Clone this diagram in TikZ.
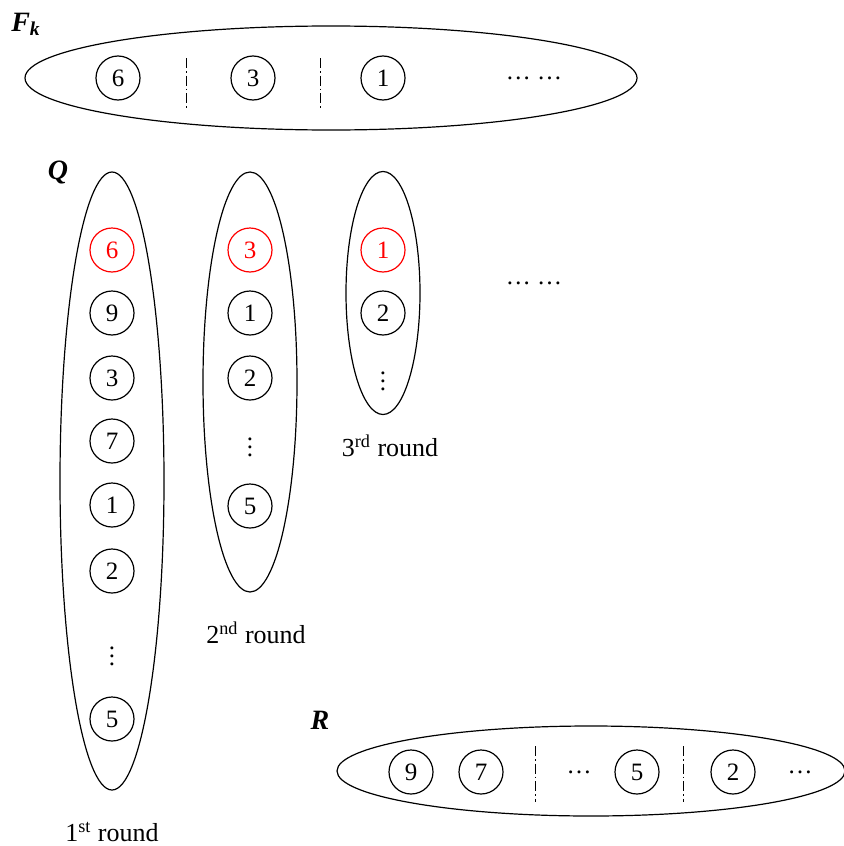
\documentclass[tikz,border=0pt]{standalone}
\usepackage{fontspec}
\setmainfont{Liberation Serif}
\usetikzlibrary{shapes.geometric}

\begin{document}
\begin{tikzpicture}[
  x=0.5pt, y=-0.5pt,
  font=\fontsize{12.5}{14}\selectfont,
  item/.style={draw, circle, line width=0.6pt, minimum size=22pt, inner sep=0pt},
  hot/.style={item, draw=red, text=red},
  set/.style={draw, ellipse, line width=0.6pt, inner sep=0pt},
  sep/.style={line width=0.5pt, dash pattern=on 5pt off 1.5pt on 0.8pt off 1.5pt},
  vd/.style={inner sep=0pt},
  lbl/.style={font=\fontsize{14}{16}\selectfont\bfseries\itshape},
  roundlbl/.style={font=\fontsize{13}{15}\selectfont, inner sep=0pt}
]
\useasboundingbox (0,0) rectangle (843,846);

% F_k
\node[set, minimum width=306pt, minimum height=52pt] (fk) at (331,78) {};
\node[lbl] (fklbl) at (26,24) {F\textsubscript{k}};
\node[item] (f6) at (118,78) {6};
\node[item] (f3) at (253,78) {3};
\node[item] (f1) at (383,78) {1};
\node (fdots) at (534,78) {\ldots\ \ldots};
\coordinate (fs1a) at (186,58); \coordinate (fs1b) at (186,108);
\coordinate (fs2a) at (320,58); \coordinate (fs2b) at (320,108);
\draw[sep] (fs1a) -- (fs1b);
\draw[sep] (fs2a) -- (fs2b);

% Q, 1st round
\node[lbl] (qlbl) at (58,172) {Q};
\node[set, minimum width=52pt, minimum height=309pt] (q1) at (112,481) {};
\node[hot]  (a6) at (112,250) {6};
\node[item] (a9) at (112,313) {9};
\node[item] (a3) at (112,378) {3};
\node[item] (a7) at (112,441) {7};
\node[item] (a1) at (112,505) {1};
\node[item] (a2) at (112,571) {2};
\node[vd] (avd) at (112,650) {$\vdots$};
\node[item] (a5) at (112,719) {5};
\node[roundlbl] (acap) at (112,832) {1\textsuperscript{st} round};

% 2nd round
\node[set, minimum width=47pt, minimum height=210pt] (q2) at (250,382) {};
\node[hot]  (b3) at (250,250) {3};
\node[item] (b1) at (250,313) {1};
\node[item] (b2) at (250,378) {2};
\node[vd] (bvd) at (250,441) {$\vdots$};
\node[item] (b5) at (250,506) {5};
\node[roundlbl] (bcap) at (256,633) {2\textsuperscript{nd} round};

% 3rd round
\node[set, minimum width=37pt, minimum height=121.5pt] (q3) at (383,293) {};
\node[hot]  (c1) at (383,250) {1};
\node[item] (c2) at (383,313) {2};
\node[vd] (cvd) at (383,375) {$\vdots$};
\node[roundlbl] (ccap) at (390,446) {3\textsuperscript{rd} round};
\node (qdots) at (534,283) {\ldots\ \ldots};

% R
\node[lbl] (rlbl) at (320,720) {R};
\node[set, minimum width=254pt, minimum height=45pt] (r) at (591,771) {};
\node[item] (r9) at (411,772) {9};
\node[item] (r7) at (481,772) {7};
\node (rdots1) at (579,772) {\ldots};
\node[item] (r5) at (637,772) {5};
\node[item] (r2) at (733,772) {2};
\node (rdots2) at (800,772) {\ldots};
\coordinate (rs1a) at (535,746); \coordinate (rs1b) at (535,802);
\coordinate (rs2a) at (683,746); \coordinate (rs2b) at (683,802);
\draw[sep] (rs1a) -- (rs1b);
\draw[sep] (rs2a) -- (rs2b);
\end{tikzpicture}
\end{document}
